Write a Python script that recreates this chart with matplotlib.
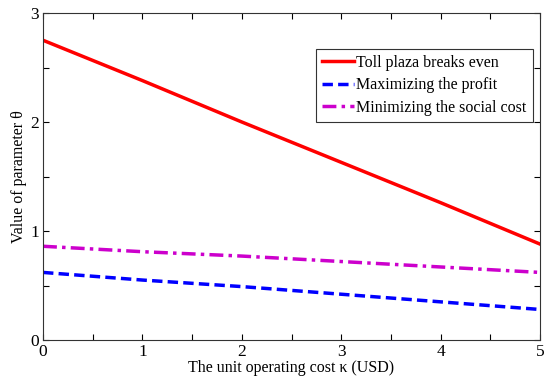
import numpy as np
import matplotlib
matplotlib.use('Agg')
import matplotlib.pyplot as plt

plt.rcParams['font.family'] = ['Liberation Serif', 'DejaVu Serif']

# unit operating cost (USD) and theta for each policy
kappa = [0, 1, 2, 3, 4, 5]
breakeven = [2.75, 2.38, 2.00, 1.63, 1.26, 0.88]
max_profit = [0.62, 0.55, 0.49, 0.42, 0.35, 0.28]
min_social = [0.86, 0.81, 0.77, 0.72, 0.67, 0.62]

fig = plt.figure(figsize=(5.45, 3.77), dpi=100)
ax = fig.add_axes([43/545, 1 - 340/377, 497/545, 327/377])

ax.plot(kappa, breakeven, color='#ff0000', lw=2.5, label='Toll plaza breaks even')
ax.plot(kappa, max_profit, color='#0000ff', lw=2.5, ls=(0, (3, 1.5)), label='Maximizing the profit')
ax.plot(kappa, min_social, color='#cc00cc', lw=2.5, ls=(0, (4, 1.5, 1, 1.5)), label='Minimizing the social cost')

ax.set_xlim(0, 5)
ax.set_ylim(0, 3)
ax.set_xticks(np.arange(0, 5.01, 0.5))
ax.set_xticklabels(['0', '', '1', '', '2', '', '3', '', '4', '', '5'])
ax.set_yticks(np.arange(0, 3.01, 0.5))
ax.set_yticklabels(['0', '', '1', '', '2', '', '3'])
ax.tick_params(direction='in', top=True, right=True, length=4, labelsize=12.5, pad=3)
for s in ax.spines.values():
    s.set_linewidth(0.8)
    s.set_color('#333333')

ax.set_xlabel('The unit operating cost \u03ba (USD)', fontsize=11.5, labelpad=0)
ax.set_ylabel('Value of parameter \u03b8', fontsize=11.5, labelpad=2)

leg = ax.legend(loc='upper right', bbox_to_anchor=(0.985, 0.89), borderaxespad=0,
                fontsize=11.5, fancybox=False, framealpha=1, edgecolor='#333333',
                handlelength=2.0, handletextpad=0.15, borderpad=0.38, labelspacing=0.4)
leg.get_frame().set_linewidth(0.8)

fig.savefig('out.png', dpi=100)
